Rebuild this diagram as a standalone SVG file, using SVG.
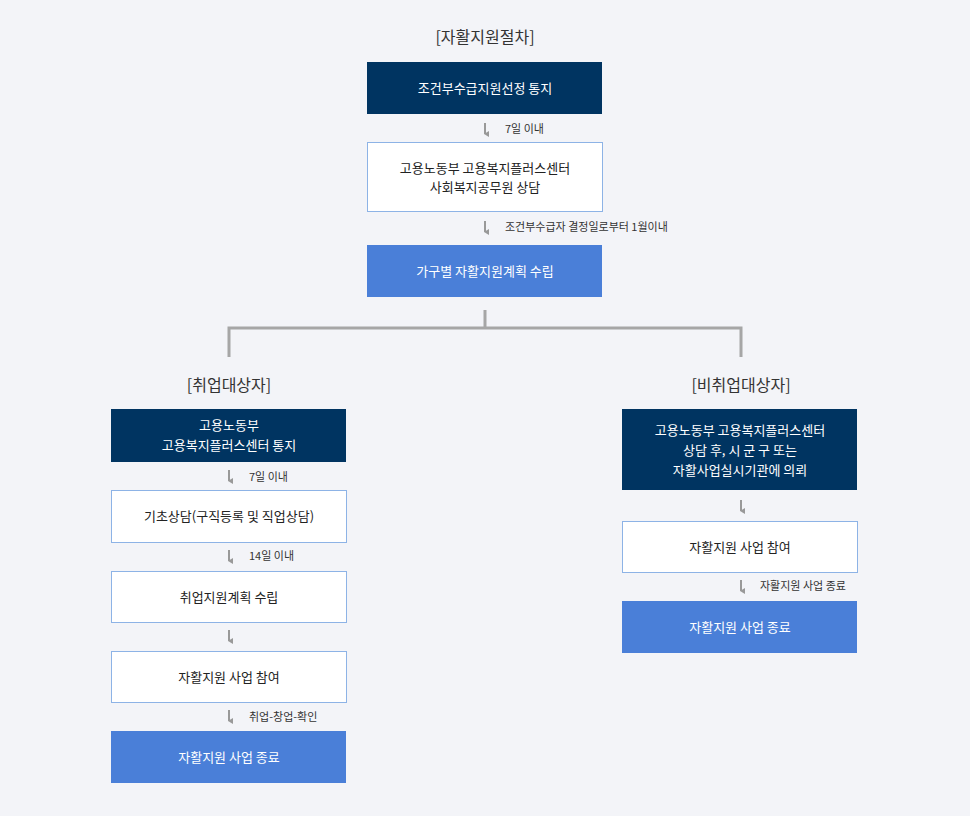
<svg xmlns="http://www.w3.org/2000/svg" width="970" height="816" viewBox="0 0 970 816">
<defs>
<style>
text{font-family:"Noto Sans CJK KR","Noto Sans",sans-serif;text-anchor:middle}
.t{font-size:13px;fill:#fff}
.b{font-size:13px;fill:#222}
.h{font-size:16px;fill:#333}
.l{font-size:11px;fill:#333;text-anchor:start}
.dk{fill:#003461}
.wh{fill:#fff;stroke:#8db3e6;stroke-width:1}
.bl{fill:#4a7fd8}
.ar{stroke:#999;stroke-width:2;fill:none}
.tr{stroke:#a6a6a6;stroke-width:3;fill:none}
</style>
<marker id="ah" markerWidth="6" markerHeight="6" refX="3" refY="5" orient="auto" markerUnits="userSpaceOnUse"><path d="M0,1 L6,1 L3,6 Z" fill="#999"/></marker>
</defs>
<rect width="970" height="816" fill="#f3f4f8"/>
<text class="h" x="485" y="43">[자활지원절차]</text>
<text class="h" x="229" y="391">[취업대상자]</text>
<text class="h" x="741" y="391">[비취업대상자]</text>
<g id="connectors">
<path class="ar" d="M485,123V134" marker-end="url(#ah)"/>
<path class="ar" d="M485,221V232" marker-end="url(#ah)"/>
<path class="tr" d="M485,310V328M229,357V328H741V357"/>
<path class="ar" d="M229,470V481" marker-end="url(#ah)"/>
<path class="ar" d="M229,550V561" marker-end="url(#ah)"/>
<path class="ar" d="M229,630V641" marker-end="url(#ah)"/>
<path class="ar" d="M229,710V721" marker-end="url(#ah)"/>
<path class="ar" d="M741,500V511" marker-end="url(#ah)"/>
<path class="ar" d="M741,580V591" marker-end="url(#ah)"/>
<text class="l" x="505" y="133">7일 이내</text>
<text class="l" x="505" y="231">조건부수급자 결정일로부터 1월이내</text>
<text class="l" x="249" y="481">7일 이내</text>
<text class="l" x="249" y="560">14일 이내</text>
<text class="l" x="249" y="721">취업-창업-확인</text>
<text class="l" x="760" y="590">자활지원 사업 종료</text>
</g>
<g id="n1"><rect class="dk" x="367" y="62" width="235" height="52"/><text class="t" x="485" y="93">조건부수급지원선정 통지</text></g>
<g id="n2"><rect class="wh" x="367.5" y="142.5" width="235" height="69"/><text class="b" x="485" y="173">고용노동부 고용복지플러스센터</text><text class="b" x="485" y="192">사회복지공무원 상담</text></g>
<g id="n3"><rect class="bl" x="367" y="245" width="235" height="52"/><text class="t" x="485" y="276">가구별 자활지원계획 수립</text></g>
<g id="L1"><rect class="dk" x="111" y="409" width="235" height="53"/><text class="t" x="229" y="430">고용노동부</text><text class="t" x="229" y="450">고용복지플러스센터 통지</text></g>
<g id="L2"><rect class="wh" x="111.5" y="490.5" width="235" height="52"/><text class="b" x="229" y="521">기초상담(구직등록 및 직업상담)</text></g>
<g id="L3"><rect class="wh" x="111.5" y="571.5" width="235" height="51"/><text class="b" x="229" y="602">취업지원계획 수립</text></g>
<g id="L4"><rect class="wh" x="111.5" y="651.5" width="235" height="51"/><text class="b" x="229" y="682">자활지원 사업 참여</text></g>
<g id="L5"><rect class="bl" x="111" y="731" width="235" height="52"/><text class="t" x="229" y="762">자활지원 사업 종료</text></g>
<g id="R1"><rect class="dk" x="622" y="409" width="235" height="81"/><text class="t" x="740" y="435">고용노동부 고용복지플러스센터</text><text class="t" x="740" y="455">상담 후, 시 군 구  또는</text><text class="t" x="740" y="475">자활사업실시기관에 의뢰</text></g>
<g id="R2"><rect class="wh" x="622.5" y="521.5" width="235" height="51"/><text class="b" x="740" y="552">자활지원 사업 참여</text></g>
<g id="R3"><rect class="bl" x="622" y="601" width="235" height="52"/><text class="t" x="740" y="632">자활지원 사업 종료</text></g>
</svg>
